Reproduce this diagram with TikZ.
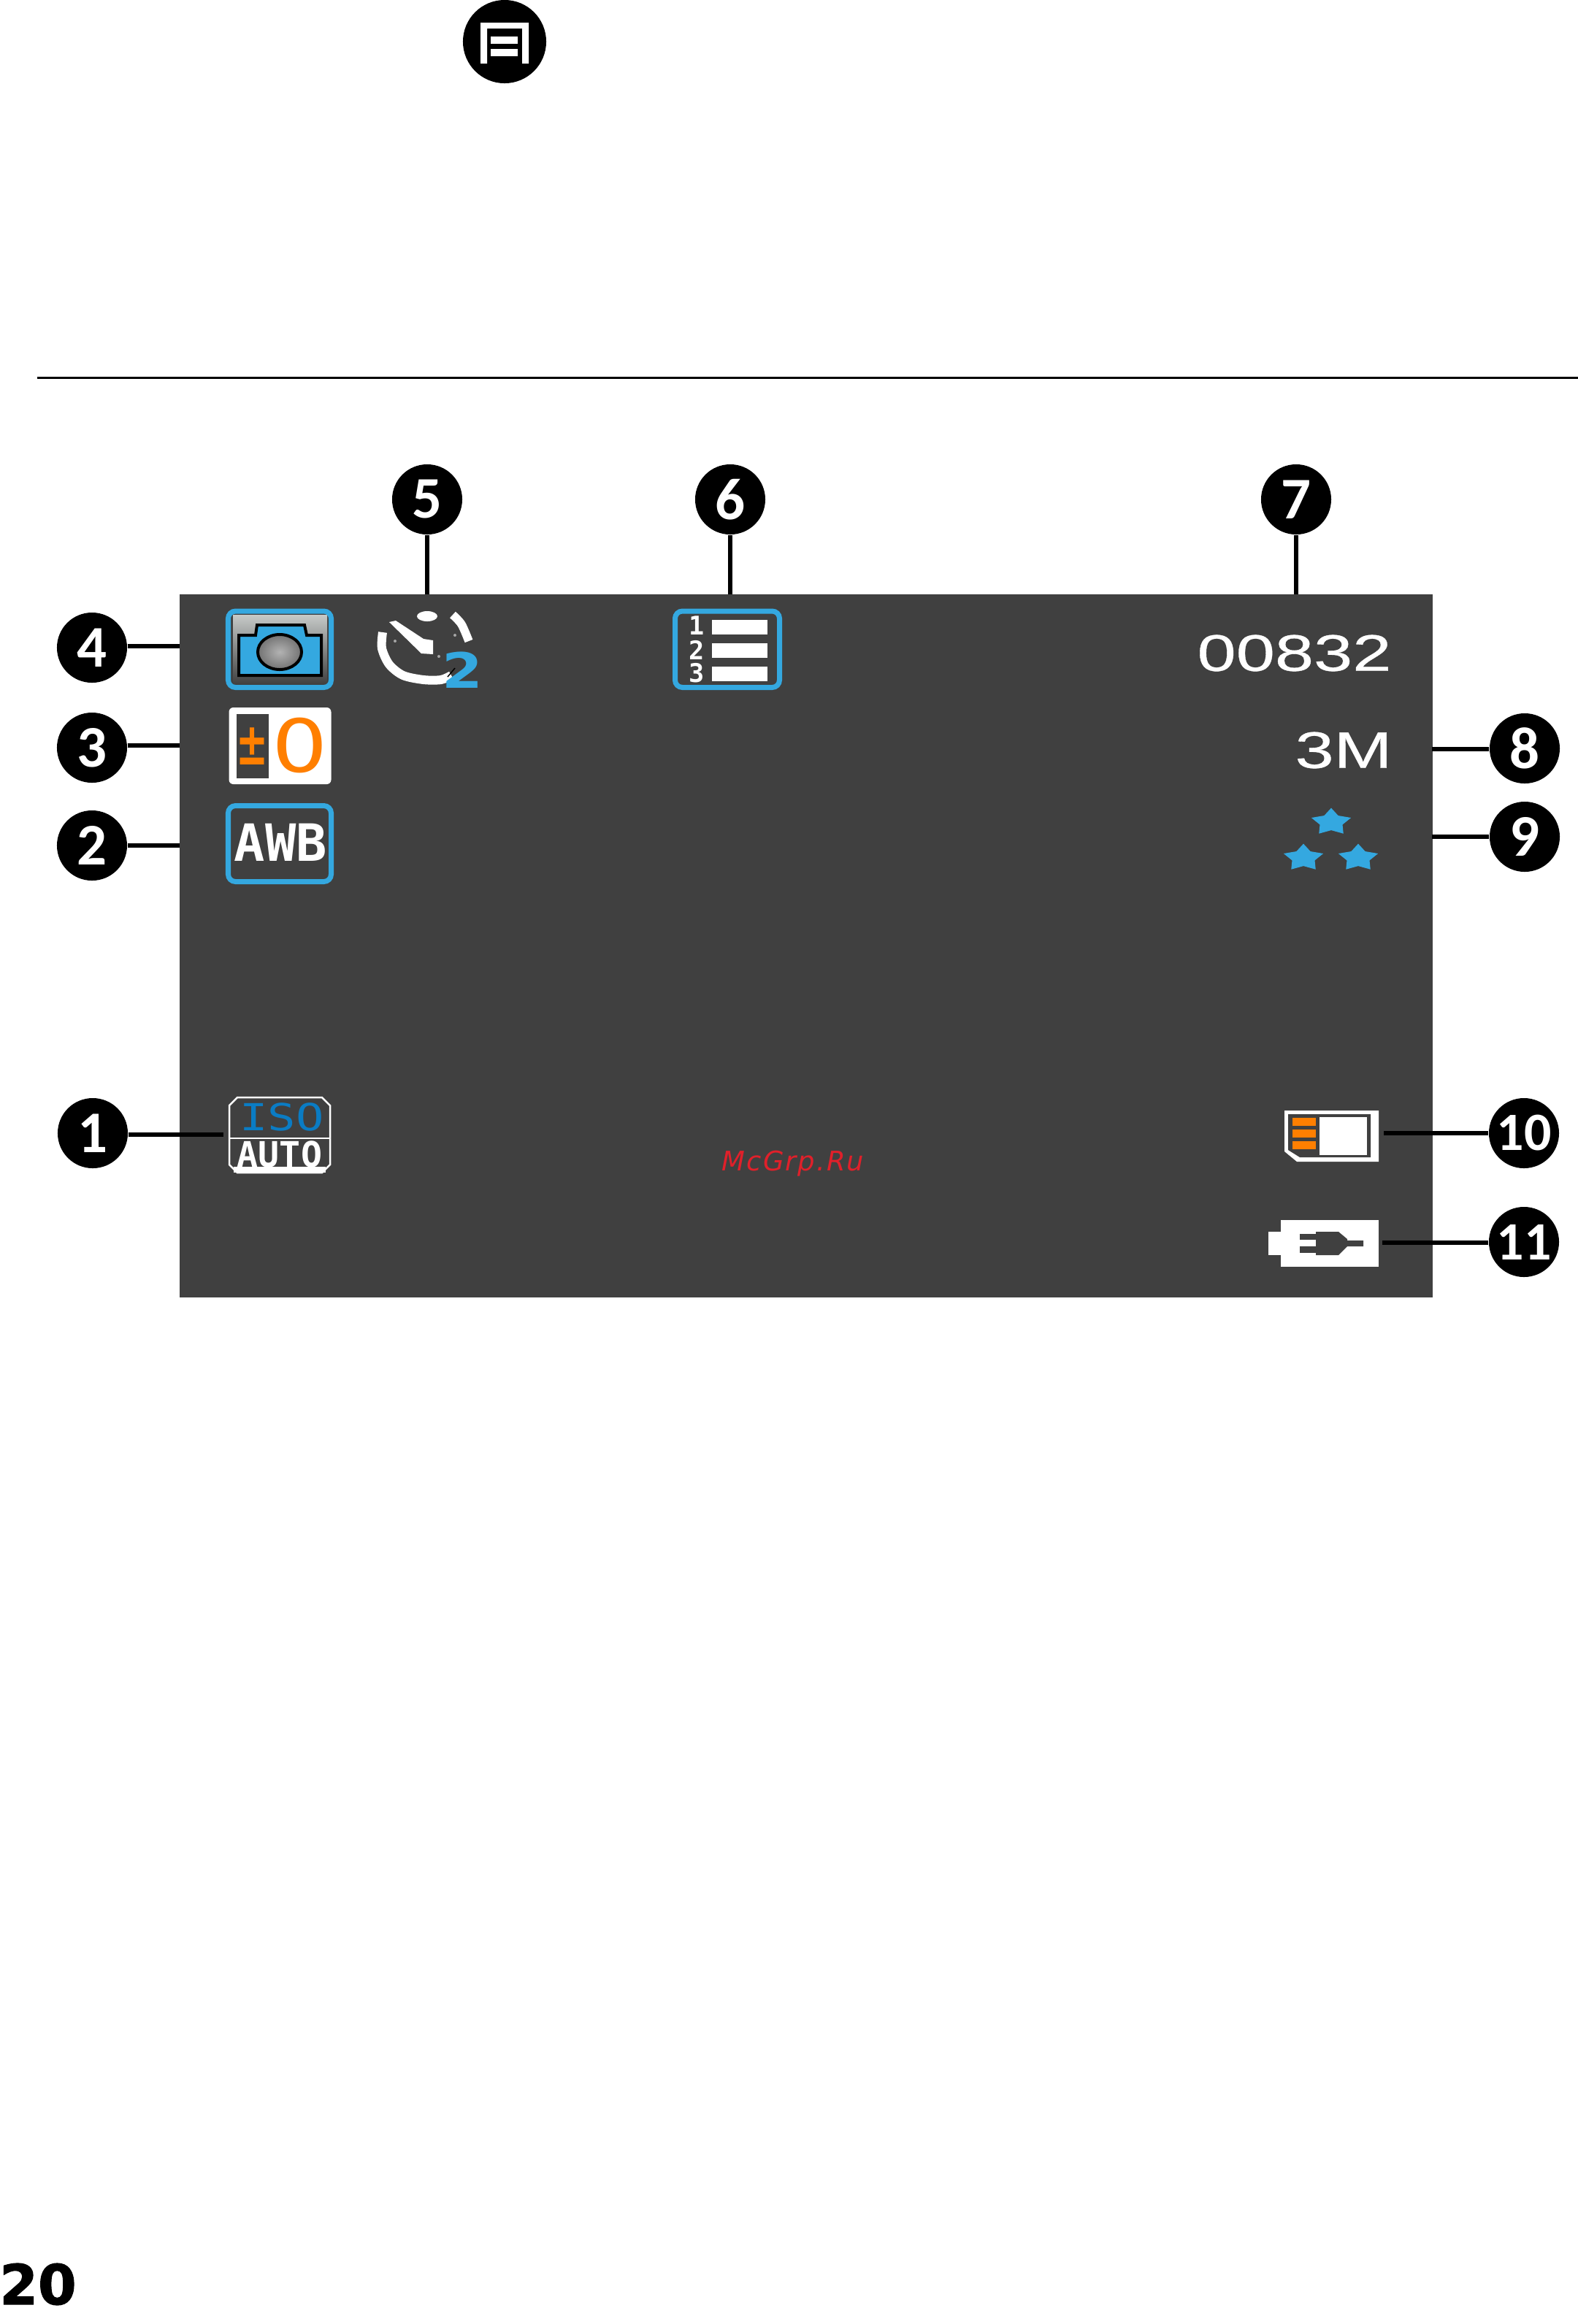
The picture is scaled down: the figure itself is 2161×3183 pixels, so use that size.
\documentclass[tikz,border=0pt]{standalone}
\usepackage{fontspec}
\usetikzlibrary{shapes.geometric}
\newfontfamily\badgefont{Carlito}
\newfontfamily\pagefont{DejaVu Sans}
\newfontfamily\heavyfont[FakeBold=1.5]{DejaVu Sans}
\newfontfamily\markfont[LetterSpace=5.5]{DejaVu Sans}
\newfontfamily\osdfont[FakeStretch=1.36,FakeBold=0.5]{Liberation Sans}
\newfontfamily\isofont[FakeStretch=1.25]{DejaVu Sans Mono}
\newfontfamily\osdboldfont{DejaVu Sans Mono}
\definecolor{osdgrey}{RGB}{64,64,64}
\definecolor{osdblue}{RGB}{52,168,224}
\definecolor{isoblue}{RGB}{10,124,196}
\definecolor{osdorange}{RGB}{255,127,0}
\definecolor{markred}{RGB}{224,32,42}
\definecolor{camtop}{RGB}{198,202,200}
\tikzset{
  badge/.style={circle,fill=black,text=white,minimum size=0.96cm,inner sep=0pt,font=\badgefont\bfseries\fontsize{23}{23}\selectfont},
  leader/.style={line width=0.06cm,black},
  bluebox/.style={draw=osdblue,line width=0.07cm,rounded corners=0.1cm},
  osdtext/.style={text=white,inner sep=0pt,font=\osdfont\fontsize{20}{20}\selectfont},
  osdbold/.style={text=white,inner sep=0pt,font=\osdboldfont\bfseries\fontsize{20}{20}\selectfont},
  starmark/.style={star,star points=5,star point ratio=1.75,fill=osdblue,minimum size=0.57cm,inner sep=0pt,transform shape,yscale=0.68},
}
\begin{document}
\begin{tikzpicture}[x=0.01cm,y=-0.01cm]
\useasboundingbox (0,0) rectangle (2161,3183);
\node (screen) [fill=osdgrey,minimum width=17.15cm,minimum height=9.63cm,inner sep=0pt,outer sep=0pt] at (1103.5,1295.5) {};
\draw [line width=0.03cm] (51,517.5)--(2161,517.5);
% top menu button
\node (menubtn) [circle,fill=black,minimum size=1.14cm,inner sep=0pt] at (691,57) {};
\fill [white] (658,87)--(658,31)--(724,31)--(724,87)--(715,87)--(715,39)--(667,39)--(667,87)--cycle;
\fill [white] (672,50) rectangle (709,60);
\fill [white] (672,67) rectangle (709,77);
% page number
\node (pagenum) [inner sep=0pt,font=\heavyfont\bfseries\fontsize{21.5}{22}\selectfont] at (52,3128.5) {20};
% camera icon
\fill [top color=camtop,bottom color=osdgrey] (319,842) rectangle (448,937);
\draw [bluebox] (312.5,837) rectangle (453.5,941.5);
\draw [line width=0.04cm,fill=osdblue] (327,925)--(327,870)--(350,870)--(352,856)--(417,856)--(420,870)--(440,870)--(440,925)--cycle;
\draw [line width=0.04cm,inner color=gray!60,outer color=gray!90!black] (383,893) ellipse (30 and 24);
% timer icon
\node (timerdot) [ellipse,fill=white,minimum width=0.28cm,minimum height=0.14cm,inner sep=0pt] at (585,844) {};
\fill [white] (533,852)--(542,850)--(580,875)--(593,877)--(593,896)--(577,895)--cycle;
\draw [white,line width=0.115cm] plot [smooth] coordinates {(620,842) (632,855) (642,878)};
\draw [white,line width=0.12cm] plot [smooth] coordinates {(524,866) (523,888) (533,910) (552,925) (580,931) (604,931) (618,925)};
\fill [gray!70] (541,878) circle (2);
\fill [gray!70] (623,870) circle (2);
\fill [gray!70] (601,899) circle (2);
\node (timernum) [inner sep=0pt,text=osdblue,font=\pagefont\bfseries\fontsize{19}{19}\selectfont,transform shape,xscale=1.2] at (633.5,917.5) {2};
\draw [line width=0.015cm] (613,927)--(623,915);
% burst list icon
\draw [bluebox] (924.5,837) rectangle (1067.5,941.5);
\foreach \n/\y in {1/856.5,2/890,3/922}
  \node (num\n) [text=white,inner sep=0pt,font=\osdboldfont\bfseries\fontsize{10}{10}\selectfont] at (954,\y) {\n};
\foreach \y in {849,881,913}
  \fill [white] (975,\y) rectangle (1050.5,\y+20);
% counter and size
\node (counter) [osdtext] at (1772.5,894.5) {00832};
\node (imgsize) [osdtext] at (1840,1027.5) {3M};
% exposure icon
\fill [white,rounded corners=0.06cm] (313.5,969) rectangle (453.5,1074);
\fill [osdgrey] (324,978) rectangle (368,1066);
\node (evsign) [inner sep=0pt,text=osdorange,font=\pagefont\bfseries\fontsize{23}{23}\selectfont,transform shape,xscale=0.65] at (346,1022.5) {±};
\node (evzero) [inner sep=0pt,text=osdorange,font=\pagefont\fontsize{28.5}{28.5}\selectfont,transform shape,xscale=1.2] at (411,1021) {0};
% white balance icon
\draw [bluebox] (312.5,1103.5) rectangle (453.5,1207.5);
\node (awb) [osdbold] at (384.5,1153.5) {AWB};
% stars
\node (star1) [starmark] at (1823,1126) {};
\node (star2) [starmark] at (1785,1175) {};
\node (star3) [starmark] at (1860,1175) {};
% iso icon
\draw [white,line width=0.025cm] (325,1503)--(441,1503)--(452,1514)--(452,1595)--(441,1606)--(325,1606)--(314,1595)--(314,1514)--cycle;
\draw [white,line width=0.025cm] (314,1559)--(452,1559);
\fill [white] (320,1598) rectangle (446,1606);
\node (iso) [inner sep=0pt,text=isoblue,font=\isofont\fontsize{14.5}{14.5}\selectfont] at (386,1529.5) {ISO};
\node (auto) [text=white,inner sep=0pt,font=\osdboldfont\bfseries\fontsize{13.7}{13.7}\selectfont] at (383,1580.5) {AUTO};
% card icon
\fill [white] (1759,1521)--(1888,1521)--(1888,1591)--(1776,1591)--(1759,1577)--cycle;
\fill [osdgrey] (1764,1526)--(1877,1526)--(1877,1585)--(1780,1585)--(1764,1575)--cycle;
\fill [white] (1807,1530) rectangle (1872,1582);
\foreach \y in {1531,1547,1563}
  \fill [osdorange] (1770,\y) rectangle (1802,\y+11);
% battery icon
\fill [white] (1754,1671) rectangle (1888,1735);
\fill [white] (1737,1687) rectangle (1754,1719);
\fill [osdgrey] (1780,1690) rectangle (1802,1698);
\fill [osdgrey] (1780,1707) rectangle (1802,1716);
\fill [osdgrey] (1802,1687)--(1833,1687)--(1845,1697)--(1845,1699)--(1867,1699)--(1867,1707)--(1845,1707)--(1833,1719)--(1802,1719)--cycle;
% watermark
\node (mark) [inner sep=0pt,text=markred,font=\markfont\itshape\fontsize{10.5}{10.5}\selectfont] at (1086,1594) {McGrp.Ru};
% numbered badges
\foreach \n/\x/\y in {1/127/1552,2/126/1158,3/126/1024,4/126/887,5/585/684,6/1000/684,7/1775/684,8/2088/1025,9/2088/1146}
  \node (n\n) [badge] at (\x,\y) {\n};
\foreach \n/\y in {10/1552,11/1701}
  \node (n\n) [badge,font=\badgefont\bfseries\fontsize{21}{21}\selectfont] at (2087,\y) {\n};
% leaders
\coordinate (e1) at (306,1554);
\coordinate (e2) at (246,1158);
\coordinate (e3) at (246,1021);
\coordinate (e4) at (246,885);
\coordinate (e8) at (1961,1025.5);
\coordinate (e9) at (1961,1146);
\coordinate (e10) at (1895,1552);
\coordinate (e11) at (1893,1702);
\foreach \n in {1,2,3,4}
  \draw [leader] (n\n.east |- e\n) -- (e\n);
\foreach \n in {8,9,10,11}
  \draw [leader] (n\n.west |- e\n) -- (e\n);
\foreach \n in {5,6,7}
  \draw [leader] (n\n) -- (n\n |- screen.north);
\end{tikzpicture}
\end{document}
